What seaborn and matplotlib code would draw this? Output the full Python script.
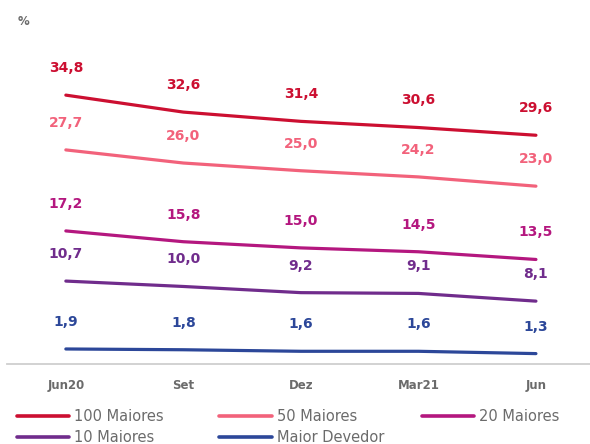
import matplotlib
matplotlib.use("Agg")
import matplotlib.pyplot as plt
import seaborn as sns
import pandas as pd

# Concentration of the loan portfolio (%)
periods = ["Jun20", "Set", "Dez", "Mar21", "Jun"]
top100 = [34.8, 32.6, 31.4, 30.6, 29.6]
top50 = [27.7, 26.0, 25.0, 24.2, 23.0]
top20 = [17.2, 15.8, 15.0, 14.5, 13.5]
top10 = [10.7, 10.0, 9.2, 9.1, 8.1]
largest = [1.9, 1.8, 1.6, 1.6, 1.3]

series_names = ["100 Maiores", "50 Maiores", "20 Maiores", "10 Maiores", "Maior Devedor"]
series_values = [top100, top50, top20, top10, largest]
colors = ["#CC0F31", "#F2627B", "#B4177F", "#702C8C", "#2C4799"]

sns.set_theme(style="white")
plt.rcParams["font.family"] = ["DejaVu Sans"]

rows = []
for name, vals in zip(series_names, series_values):
    for i, (p, v) in enumerate(zip(periods, vals)):
        rows.append({"pos": i, "period": p, "serie": name, "valor": v})
df = pd.DataFrame(rows)

fig = plt.figure(figsize=(5.9, 4.44), dpi=100)
ax = fig.add_axes([0.012, 0.181, 0.988, 0.749])

sns.lineplot(data=df, x="pos", y="valor", hue="serie", hue_order=series_names,
             palette=colors, linewidth=2.3, ax=ax, legend=True,
             solid_capstyle="round", solid_joinstyle="round")

# value labels above each point
for name, vals, c in zip(series_names, series_values, colors):
    for i, v in enumerate(vals):
        ax.annotate(f"{v:.1f}".replace(".", ","), (i, v), xytext=(0, 19.5),
                    textcoords="offset points", ha="center", va="center",
                    fontsize=10, fontweight="bold", color=c)

ax.set_xlim(-0.5, 4.46)
ax.set_ylim(0, 43.1)
ax.set_xticks(range(len(periods)))
ax.set_xticklabels(periods, fontsize=8.5, fontweight="bold", color="#6b6b6b")
ax.set_yticks([])
ax.set_xlabel("")
ax.set_ylabel("")
ax.tick_params(axis="x", length=0, pad=11)
for s in ["top", "right", "left"]:
    ax.spines[s].set_visible(False)
ax.spines["bottom"].set_color("#cfcfcf")
ax.spines["bottom"].set_linewidth(1.3)

fig.text(0.03, 0.952, "%", fontsize=8.5, fontweight="bold", color="#6b6b6b",
         ha="left", va="center")

# legend laid out in three columns
handles, labels = ax.get_legend_handles_labels()
ax.get_legend().remove()
lookup = dict(zip(labels, handles))
columns = [["100 Maiores", "10 Maiores"], ["50 Maiores", "Maior Devedor"], ["20 Maiores"]]
col_x = [0.028, 0.372, 0.715]
for cx, col in zip(col_x, columns):
    leg = fig.legend([lookup[n] for n in col], col, loc="upper left",
                     bbox_to_anchor=(cx, 0.078), bbox_transform=fig.transFigure,
                     frameon=False, fontsize=10.5, handlelength=3.6,
                     handletextpad=0.35, labelspacing=0.38, borderpad=0,
                     borderaxespad=0, labelcolor="#6b6b6b")
    for line in leg.get_lines():
        line.set_linewidth(2.6)

fig.savefig("out.png", dpi=100, facecolor="white")
